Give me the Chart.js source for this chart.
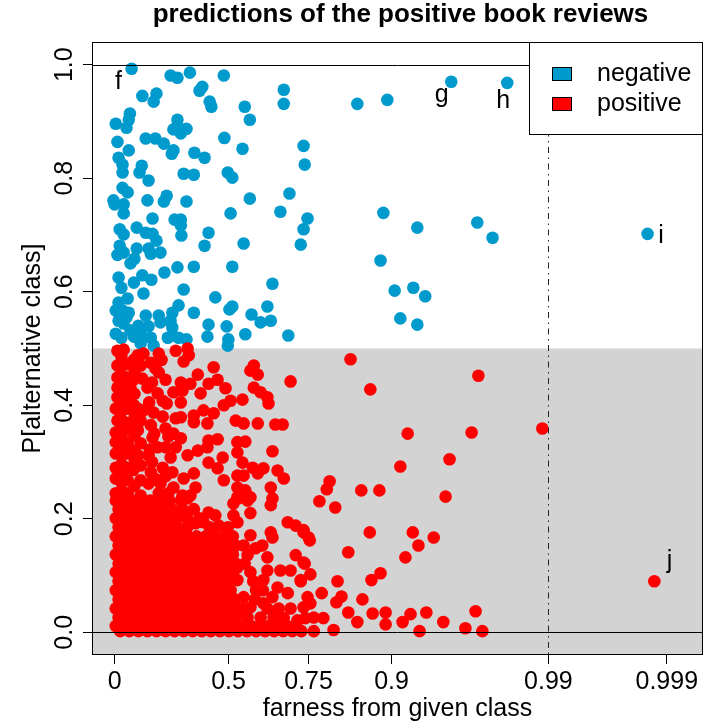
<!DOCTYPE html>
<html>
<head>
<meta charset="utf-8">
<script src="https://cdn.jsdelivr.net/npm/chart.js@4.4.1/dist/chart.umd.min.js"></script>
<style>
  html, body { margin: 0; padding: 0; background: #fff; }
  #wrap { width: 727px; height: 727px; }
</style>
</head>
<body>
<div id="wrap"><canvas id="farnessChart" width="727" height="727"></canvas></div>
<script>
// x is the position on the (transformed) farness axis: 0 = farness 0, ticks below
const xTickPos = [0, 0.2014, 0.3428, 0.4894, 0.7668, 0.976];
const xTickLabels = ['0', '0.5', '0.75', '0.9', '0.99', '0.999'];
const yTicks = [0, 0.2, 0.4, 0.6, 0.8, 1.0];
const seriesNames = ['negative', 'positive'];
const greyBandTop = 0.5;
const refLinesY = [0, 1];
const refLineX = 0.7668; // farness 0.99

const negativePts = [
  [0.030,0.993],[0.099,0.981],[0.111,0.977],[0.133,0.986],[0.193,0.981],[0.299,0.956],[0.299,0.931],
  [0.049,0.945],[0.074,0.949],[0.069,0.935],[0.155,0.961],[0.150,0.954],[0.168,0.935],[0.171,0.926],
  [0.230,0.926],[0.239,0.903],[0.027,0.914],[0.025,0.903],[0.002,0.896],[0.021,0.889],[0.111,0.903],
  [0.104,0.886],[0.117,0.879],[0.127,0.887],[0.111,0.891],[0.005,0.864],[0.025,0.849],[0.055,0.870],
  [0.072,0.870],[0.087,0.861],[0.104,0.849],[0.101,0.843],[0.141,0.845],[0.159,0.836],[0.194,0.871],
  [0.226,0.852],[0.334,0.857],[0.336,0.824],[0.007,0.836],[0.014,0.824],[0.014,0.810],[0.048,0.822],
  [0.044,0.810],[0.060,0.796],[0.122,0.808],[0.140,0.806],[0.200,0.810],[0.208,0.801],[0.014,0.783],
  [0.023,0.775],[0.092,0.769],[0.058,0.761],[0.127,0.759],[0.239,0.764],[0.309,0.773],[-0.002,0.761],
  [0.000,0.754],[0.016,0.754],[0.016,0.738],[0.087,0.759],[0.205,0.738],[0.293,0.741],[0.341,0.729],
  [0.334,0.710],[0.329,0.683],[0.067,0.729],[0.039,0.713],[0.009,0.710],[0.016,0.701],[0.106,0.727],
  [0.117,0.727],[0.117,0.717],[0.118,0.699],[0.055,0.704],[0.067,0.702],[0.074,0.690],[0.166,0.704],
  [0.159,0.681],[0.228,0.685],[0.009,0.681],[0.005,0.665],[0.016,0.669],[0.039,0.676],[0.035,0.658],
  [0.028,0.650],[0.060,0.676],[0.064,0.667],[0.081,0.669],[0.111,0.643],[0.140,0.644],[0.088,0.634],
  [0.208,0.644],[0.007,0.625],[0.012,0.607],[0.034,0.616],[0.049,0.629],[0.065,0.621],[0.051,0.597],
  [0.122,0.604],[0.279,0.614],[0.023,0.588],[0.007,0.581],[0.002,0.567],[0.014,0.567],[0.025,0.563],
  [0.007,0.549],[0.016,0.544],[0.002,0.526],[0.012,0.519],[0.113,0.576],[0.102,0.563],[0.055,0.558],
  [0.078,0.558],[0.081,0.546],[0.099,0.549],[0.140,0.563],[0.178,0.590],[0.208,0.574],[0.203,0.569],
  [0.242,0.560],[0.258,0.546],[0.270,0.574],[0.276,0.549],[0.042,0.540],[0.060,0.539],[0.046,0.526],
  [0.034,0.521],[0.102,0.537],[0.102,0.523],[0.113,0.519],[0.127,0.516],[0.166,0.542],[0.164,0.521],
  [0.198,0.539],[0.201,0.516],[0.200,0.505],[0.231,0.525],[0.307,0.523],[0.064,0.519],[0.069,0.505],
  [0.046,0.509],[0.094,0.519],[0.028,0.532],[0.021,0.555],
  [0.595,0.970],[0.694,0.968],[0.429,0.931],[0.482,0.938],[0.475,0.739],[0.535,0.713],[0.641,0.722],
  [0.668,0.695],[0.942,0.702],[0.470,0.655],[0.495,0.602],[0.528,0.607],[0.549,0.592],[0.505,0.553],
  [0.535,0.542]
];

const positivePts = [
  // upper part of the red cloud (0.25 .. 0.5)
  [0.005,0.496],[0.016,0.498],[0.041,0.488],[0.051,0.491],[0.078,0.491],[0.108,0.496],[0.129,0.500],
  [0.122,0.477],[0.131,0.488],[0.005,0.470],[0.025,0.472],[0.046,0.470],[0.072,0.465],[0.078,0.458],
  [0.175,0.467],[0.246,0.470],[0.240,0.461],[0.253,0.454],[0.147,0.454],[0.005,0.449],[0.023,0.449],
  [0.049,0.447],[0.311,0.442],[0.005,0.431],[0.028,0.431],[0.058,0.431],[0.117,0.440],[0.134,0.438],
  [0.166,0.438],[0.182,0.445],[0.196,0.430],[0.104,0.423],[0.120,0.426],[0.246,0.431],[0.258,0.423],
  [0.270,0.414],[0.272,0.403],[0.005,0.414],[0.025,0.414],[0.076,0.421],[0.085,0.408],[0.092,0.403],
  [0.117,0.405],[0.152,0.421],[0.226,0.410],[0.205,0.408],[0.193,0.400],[0.002,0.394],[0.023,0.394],
  [0.041,0.394],[0.051,0.391],[0.069,0.387],[0.005,0.373],[0.028,0.370],[0.046,0.373],[0.108,0.377],
  [0.117,0.379],[0.140,0.382],[0.157,0.391],[0.175,0.386],[0.140,0.370],[0.164,0.368],[0.214,0.373],
  [0.228,0.368],[0.253,0.368],[0.284,0.366],[0.297,0.366],[0.002,0.352],[0.025,0.356],[0.041,0.356],
  [0.090,0.359],[0.104,0.350],[0.117,0.342],[0.067,0.343],[0.002,0.335],[0.023,0.333],[0.046,0.333],
  [0.076,0.326],[0.090,0.326],[0.108,0.326],[0.147,0.320],[0.166,0.338],[0.182,0.340],[0.164,0.326],
  [0.217,0.335],[0.231,0.336],[0.217,0.317],[0.279,0.319],[0.002,0.315],[0.023,0.315],[0.041,0.312],
  [0.060,0.312],[0.099,0.308],[0.129,0.312],[0.191,0.308],[0.166,0.299],[0.226,0.299],[0.002,0.290],
  [0.023,0.290],[0.046,0.294],[0.064,0.282],[0.085,0.290],[0.102,0.282],[0.182,0.289],[0.244,0.290],
  [0.263,0.289],[0.288,0.285],[0.299,0.271],[0.193,0.268],[0.217,0.276],[0.228,0.276],[0.253,0.280],
  [0.122,0.271],[0.140,0.280],[0.002,0.271],[0.023,0.268],[0.046,0.268],[0.060,0.262],[0.081,0.262],
  [0.104,0.255],[0.143,0.255],[0.276,0.255],[0.217,0.255],[0.231,0.250],[0.002,0.245],[0.023,0.245],
  [0.046,0.241],[0.078,0.245],[0.095,0.245],[0.120,0.241],[0.134,0.241],[0.217,0.238],[0.240,0.238],
  [0.279,0.236],
  [0.012,0.486],[0.012,0.470],[0.012,0.454],[0.012,0.438],[0.012,0.423],[0.012,0.407],[0.012,0.391],
  [0.012,0.375],[0.012,0.359],[0.012,0.343],[0.012,0.327],[0.012,0.312],[0.012,0.296],[0.012,0.280],
  [0.012,0.264],[0.012,0.248],
  [0.034,0.480],[0.036,0.462],[0.033,0.445],[0.035,0.420],[0.034,0.400],[0.036,0.383],[0.033,0.365],
  [0.035,0.347],[0.034,0.320],[0.036,0.303],[0.033,0.286],[0.035,0.258],
  [0.064,0.475],[0.066,0.440],[0.061,0.405],[0.064,0.365],[0.070,0.350],[0.062,0.322],[0.066,0.300],
  [0.072,0.270],[0.083,0.480],[0.090,0.445],[0.085,0.380],[0.095,0.345],[0.090,0.275],
  // dense lower block (0 .. 0.25)
  [0.002,0.232],[0.016,0.232],[0.030,0.232],[0.047,0.232],[0.063,0.232],[0.080,0.232],[0.097,0.232],
  [0.007,0.217],[0.022,0.217],[0.038,0.217],[0.053,0.217],[0.069,0.217],[0.085,0.217],[0.101,0.217],
  [0.120,0.217],[0.140,0.217],
  [0.002,0.201],[0.016,0.201],[0.032,0.201],[0.047,0.201],[0.063,0.201],[0.079,0.201],[0.095,0.201],
  [0.110,0.201],[0.128,0.201],[0.150,0.201],
  [0.007,0.185],[0.022,0.185],[0.038,0.185],[0.054,0.185],[0.070,0.185],[0.086,0.185],[0.101,0.185],
  [0.128,0.185],[0.168,0.185],
  [0.002,0.169],[0.018,0.169],[0.034,0.169],[0.049,0.169],[0.065,0.169],[0.081,0.169],[0.097,0.169],
  [0.113,0.169],[0.129,0.169],[0.145,0.169],[0.161,0.169],[0.177,0.169],[0.193,0.169],[0.209,0.169],
  [0.007,0.153],[0.022,0.153],[0.038,0.153],[0.054,0.153],[0.070,0.153],[0.086,0.153],[0.102,0.153],
  [0.118,0.153],[0.134,0.153],[0.150,0.153],[0.166,0.153],[0.182,0.153],[0.198,0.153],[0.214,0.153],
  [0.228,0.153],
  [0.002,0.137],[0.018,0.137],[0.034,0.137],[0.049,0.137],[0.065,0.137],[0.081,0.137],[0.097,0.137],
  [0.113,0.137],[0.129,0.137],[0.145,0.137],[0.161,0.137],[0.177,0.137],[0.193,0.137],[0.209,0.137],
  [0.007,0.121],[0.022,0.121],[0.038,0.121],[0.054,0.121],[0.070,0.121],[0.086,0.121],[0.102,0.121],
  [0.118,0.121],[0.134,0.121],[0.150,0.121],[0.166,0.121],[0.182,0.121],[0.198,0.121],[0.214,0.121],
  [0.230,0.121],
  [0.002,0.106],[0.018,0.106],[0.034,0.106],[0.049,0.106],[0.065,0.106],[0.081,0.106],[0.097,0.106],
  [0.113,0.106],[0.129,0.106],[0.145,0.106],[0.161,0.106],[0.177,0.106],[0.193,0.106],[0.209,0.106],
  [0.240,0.106],
  [0.007,0.090],[0.022,0.090],[0.038,0.090],[0.054,0.090],[0.070,0.090],[0.086,0.090],[0.102,0.090],
  [0.118,0.090],[0.134,0.090],[0.150,0.090],[0.166,0.090],[0.182,0.090],[0.200,0.090],[0.245,0.090],
  [0.002,0.074],[0.018,0.074],[0.034,0.074],[0.049,0.074],[0.065,0.074],[0.081,0.074],[0.097,0.074],
  [0.113,0.074],[0.129,0.074],[0.145,0.074],[0.161,0.074],[0.177,0.074],[0.190,0.074],[0.250,0.074],
  [0.262,0.074],
  [0.007,0.058],[0.022,0.058],[0.038,0.058],[0.054,0.058],[0.070,0.058],[0.086,0.058],[0.102,0.058],
  [0.118,0.058],[0.134,0.058],[0.150,0.058],[0.166,0.058],[0.182,0.058],[0.198,0.058],[0.212,0.058],
  [0.248,0.058],
  [0.002,0.042],[0.018,0.042],[0.034,0.042],[0.049,0.042],[0.065,0.042],[0.081,0.042],[0.097,0.042],
  [0.113,0.042],[0.129,0.042],[0.145,0.042],[0.161,0.042],[0.177,0.042],[0.193,0.042],[0.209,0.042],
  [0.225,0.042],[0.270,0.042],[0.290,0.042],
  [0.007,0.026],[0.022,0.026],[0.038,0.026],[0.054,0.026],[0.070,0.026],[0.086,0.026],[0.102,0.026],
  [0.118,0.026],[0.134,0.026],[0.150,0.026],[0.166,0.026],[0.182,0.026],[0.198,0.026],[0.214,0.026],
  [0.002,0.011],[0.018,0.011],[0.034,0.011],[0.049,0.011],[0.065,0.011],[0.081,0.011],[0.097,0.011],
  [0.113,0.011],[0.129,0.011],[0.145,0.011],[0.161,0.011],[0.177,0.011],[0.193,0.011],[0.209,0.011],
  [0.225,0.011],[0.241,0.011],[0.257,0.011],[0.273,0.011],[0.289,0.011],[0.305,0.011],[0.321,0.011],
  [0.010,0.002],[0.026,0.002],[0.042,0.002],[0.058,0.002],[0.074,0.002],[0.090,0.002],[0.106,0.002],
  [0.122,0.002],[0.138,0.002],[0.154,0.002],[0.170,0.002],[0.186,0.002],[0.202,0.002],[0.218,0.002],
  [0.234,0.002],[0.250,0.002],[0.266,0.002],[0.282,0.002],[0.298,0.002],[0.314,0.002],[0.330,0.002],
  // ragged right edge of the block
  [0.117,0.232],[0.129,0.236],[0.166,0.211],[0.178,0.206],[0.210,0.227],[0.219,0.236],[0.235,0.232],
  [0.240,0.210],[0.276,0.224],[0.210,0.206],[0.217,0.194],[0.111,0.185],[0.143,0.192],[0.157,0.194],
  [0.184,0.188],[0.200,0.185],[0.240,0.171],[0.276,0.176],[0.279,0.167],[0.306,0.194],[0.320,0.188],
  [0.334,0.180],[0.343,0.167],[0.261,0.153],[0.249,0.148],[0.270,0.132],[0.235,0.136],[0.320,0.136],
  [0.334,0.123],[0.217,0.114],[0.270,0.109],[0.293,0.109],[0.311,0.109],[0.263,0.092],[0.288,0.079],
  [0.329,0.092],[0.306,0.069],[0.279,0.062],[0.311,0.042],[0.334,0.044],[0.217,0.092],[0.193,0.086],
  [0.205,0.074],[0.228,0.062],[0.240,0.044],[0.263,0.051],[0.217,0.033],[0.235,0.026],[0.258,0.026],
  [0.281,0.026],[0.299,0.025],[0.323,0.021],[0.337,0.025],
  // scattered points further out
  [0.417,0.481],[0.643,0.452],[0.452,0.428],[0.756,0.359],[0.518,0.350],[0.631,0.352],[0.592,0.305],
  [0.505,0.292],[0.380,0.266],[0.375,0.252],[0.362,0.231],[0.390,0.220],[0.436,0.250],[0.468,0.250],
  [0.585,0.239],[0.334,0.176],[0.345,0.162],[0.451,0.176],[0.527,0.176],[0.564,0.167],[0.537,0.153],
  [0.413,0.141],[0.514,0.132],[0.336,0.121],[0.346,0.102],[0.329,0.090],[0.470,0.104],[0.454,0.092],
  [0.394,0.090],[0.366,0.069],[0.401,0.063],[0.392,0.053],[0.438,0.058],[0.341,0.062],[0.346,0.051],
  [0.413,0.035],[0.456,0.033],[0.479,0.035],[0.523,0.032],[0.551,0.035],[0.638,0.037],[0.429,0.018],
  [0.479,0.014],[0.509,0.018],[0.581,0.018],[0.387,0.004],[0.352,0.002],[0.539,0.002],[0.620,0.007],
  [0.650,0.002],[0.369,0.025],[0.352,0.026],[0.954,0.090]
];

// letters written next to a few reviews (text baseline position)
const pointLabels = [
  { text: 'f', x: 0.007, y: 0.958 },
  { text: 'g', x: 0.578, y: 0.935 },
  { text: 'h', x: 0.687, y: 0.924 },
  { text: 'i', x: 0.966, y: 0.685 },
  { text: 'j', x: 0.981, y: 0.113 }
];

const BLUE = '#009ACD', RED = '#FF0000', GREY = '#D3D3D3';
const FONT = '"Liberation Sans", Arial, Helvetica, sans-serif';

const toXY = pts => pts.map(p => ({ x: p[0], y: p[1] }));

const decorations = {
  id: 'decorations',
  beforeDatasetsDraw(chart) {
    const { ctx, chartArea: a, scales: { y } } = chart;
    const top = y.getPixelForValue(greyBandTop);
    ctx.save();
    ctx.fillStyle = GREY;
    ctx.fillRect(a.left, top, a.right - a.left, a.bottom - top);
    ctx.restore();
  },
  afterDatasetsDraw(chart) {
    const { ctx, chartArea: a, scales: { x, y } } = chart;
    ctx.save();
    ctx.strokeStyle = '#000';
    ctx.lineWidth = 1;
    refLinesY.forEach(v => {
      const py = Math.round(y.getPixelForValue(v)) + 0.5;
      ctx.beginPath(); ctx.moveTo(a.left, py); ctx.lineTo(a.right, py); ctx.stroke();
    });
    const px = Math.round(x.getPixelForValue(refLineX)) + 0.5;
    ctx.strokeStyle = '#222';
    ctx.setLineDash([1.5, 4.5, 6, 4.5]);
    ctx.beginPath(); ctx.moveTo(px, a.top); ctx.lineTo(px, a.bottom); ctx.stroke();
    ctx.setLineDash([]);

    ctx.fillStyle = '#000';
    ctx.font = '25px ' + FONT;
    ctx.textAlign = 'center';
    ctx.textBaseline = 'alphabetic';
    pointLabels.forEach(l => ctx.fillText(l.text, x.getPixelForValue(l.x), y.getPixelForValue(l.y)));
    ctx.restore();
  },
  afterDraw(chart) {
    const { ctx, chartArea: a, scales: { y } } = chart;
    ctx.save();
    // title
    ctx.fillStyle = '#000';
    ctx.font = 'bold 26px ' + FONT;
    ctx.textAlign = 'center';
    ctx.textBaseline = 'middle';
    ctx.fillText('predictions of the positive book reviews', (a.left + a.right) / 2 + 3, 15);

    // rotated y tick labels
    ctx.font = '25px ' + FONT;
    yTicks.forEach(v => {
      ctx.save();
      ctx.translate(a.left - 26.5, y.getPixelForValue(v));
      ctx.rotate(-Math.PI / 2);
      ctx.fillText(v.toFixed(1), 0, 0);
      ctx.restore();
    });

    // plot box
    ctx.strokeStyle = '#000';
    ctx.lineWidth = 1;
    ctx.strokeRect(a.left + 0.5, a.top + 0.5, a.right - a.left - 1, a.bottom - a.top - 1);

    // legend, top right inside the plot
    const lw = 174, lh = 93;
    const lx = a.right - lw, ly = a.top;
    ctx.fillStyle = '#fff';
    ctx.fillRect(lx, ly, lw, lh);
    ctx.strokeRect(lx + 0.5, ly + 0.5, lw - 1, lh - 1);
    const colors = [BLUE, RED];
    seriesNames.forEach((name, i) => {
      const cy = ly + 32 + i * 30;
      ctx.fillStyle = colors[i];
      ctx.fillRect(lx + 23, cy - 7, 20, 14);
      ctx.strokeRect(lx + 23.5, cy - 6.5, 19, 13);
      ctx.fillStyle = '#000';
      ctx.textAlign = 'left';
      ctx.fillText(name, lx + 68, cy);
    });
    ctx.restore();
  }
};

const tickGrid = {
  display: true,
  drawOnChartArea: false,
  drawTicks: true,
  tickLength: 9,
  color: '#000',
  lineWidth: 1
};

new Chart(document.getElementById('farnessChart').getContext('2d'), {
  type: 'scatter',
  data: {
    datasets: [
      {
        label: seriesNames[0],
        data: toXY(negativePts),
        backgroundColor: BLUE,
        borderWidth: 0,
        pointRadius: 6.3,
        pointHoverRadius: 6.3,
        order: 2
      },
      {
        label: seriesNames[1],
        data: toXY(positivePts),
        backgroundColor: RED,
        borderWidth: 0,
        pointRadius: 6.3,
        pointHoverRadius: 6.3,
        order: 1
      }
    ]
  },
  options: {
    responsive: false,
    animation: false,
    devicePixelRatio: 1,
    events: [],
    layout: { padding: { top: 42, right: 24, left: 0, bottom: 0 } },
    plugins: {
      legend: { display: false },
      title: { display: false },
      tooltip: { enabled: false }
    },
    scales: {
      x: {
        type: 'linear',
        min: -0.04,
        max: 1.04,
        afterBuildTicks: scale => { scale.ticks = xTickPos.map(v => ({ value: v })); },
        afterFit: scale => { scale.height = 72; },
        grid: tickGrid,
        border: { display: false },
        ticks: {
          color: '#000',
          font: { family: FONT, size: 25 },
          padding: 3,
          maxRotation: 0,
          autoSkip: false,
          callback: (v) => xTickLabels[xTickPos.indexOf(v)]
        },
        title: {
          display: true,
          text: 'farness from given class',
          color: '#000',
          font: { family: FONT, size: 25 },
          padding: { top: 0, bottom: 3 }
        }
      },
      y: {
        type: 'linear',
        min: -0.04,
        max: 1.04,
        afterBuildTicks: scale => { scale.ticks = yTicks.map(v => ({ value: v })); },
        afterFit: scale => { scale.width = 92; },
        grid: tickGrid,
        border: { display: false },
        ticks: { display: false },
        title: {
          display: true,
          text: 'P[alternative class]',
          color: '#000',
          font: { family: FONT, size: 25 },
          padding: { top: 18, bottom: 0 }
        }
      }
    }
  },
  plugins: [decorations]
});
</script>
</body>
</html>
